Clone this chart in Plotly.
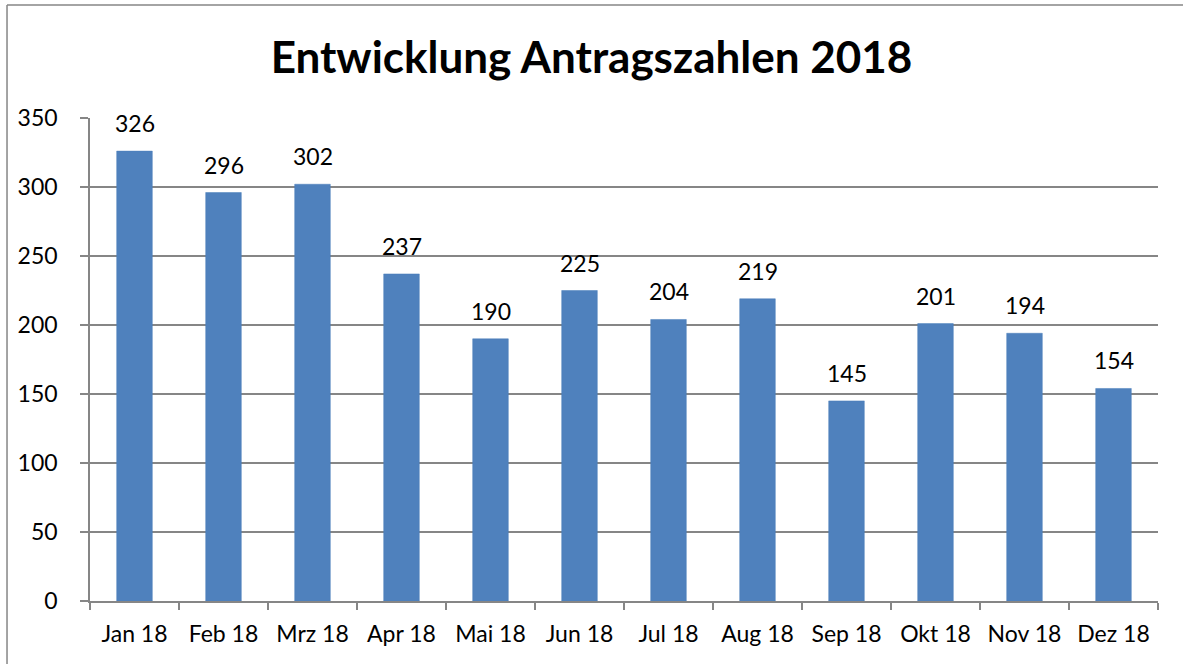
import plotly.graph_objects as go

months = ["Jan 18", "Feb 18", "Mrz 18", "Apr 18", "Mai 18", "Jun 18",
          "Jul 18", "Aug 18", "Sep 18", "Okt 18", "Nov 18", "Dez 18"]
values = [326, 296, 302, 237, 190, 225, 204, 219, 145, 201, 194, 154]
y_ticks = [0, 50, 100, 150, 200, 250, 300, 350]
title_text = "Entwicklung Antragszahlen 2018"

FONT = "Lato"
GRID = "#868686"

fig = go.Figure()
fig.add_trace(go.Bar(
    x=months, y=values,
    marker=dict(color="#4F81BD", line=dict(color="#4A7EBB", width=0.5)),
    width=0.4,
    hoverinfo="x+y",
))

for m, v in zip(months, values):
    fig.add_annotation(x=m, y=v, text=str(v), showarrow=False,
                       yanchor="bottom", yshift=12,
                       font=dict(family=FONT, size=23, color="#000000"))

# chart-area border (only left and top edges fall inside the picture)
fig.add_shape(type="line", xref="paper", yref="paper",
              x0=-0.0777, x1=-0.0777, y0=-0.4, y1=1.234,
              line=dict(color=GRID, width=1.5))
fig.add_shape(type="line", xref="paper", yref="paper",
              x0=-0.0777, x1=1.2, y0=1.234, y1=1.234,
              line=dict(color=GRID, width=1.5))

fig.update_layout(
    width=1183, height=664,
    margin=dict(l=90, r=25, t=118, b=63),
    paper_bgcolor="white", plot_bgcolor="white",
    showlegend=False,
    title=dict(text=title_text, x=0.5, xanchor="center", y=0.914, yanchor="middle",
               font=dict(family=FONT, size=44, color="#000000", weight="bold")),
    font=dict(family=FONT, size=23, color="#000000"),
    bargap=0.6,
)
fig.update_xaxes(
    showline=True, linecolor=GRID, linewidth=1.5,
    ticks="outside", tickson="boundaries", ticklen=7, tickcolor=GRID, tickwidth=1.5,
    showgrid=False, tickfont=dict(family=FONT, size=23),
    ticklabelstandoff=12,
)
fig.update_yaxes(
    range=[0, 350], tickvals=y_ticks,
    showline=True, linecolor=GRID, linewidth=1.5,
    ticks="outside", ticklen=8, tickcolor=GRID, tickwidth=1.5,
    showgrid=True, gridcolor=GRID, gridwidth=1.5,
    zeroline=False, tickfont=dict(family=FONT, size=23),
    ticklabelstandoff=18,
)

fig.write_html("out.html", config={"displayModeBar": False},
               post_script="document.body.style.margin='0';document.body.style.overflow='hidden';")
